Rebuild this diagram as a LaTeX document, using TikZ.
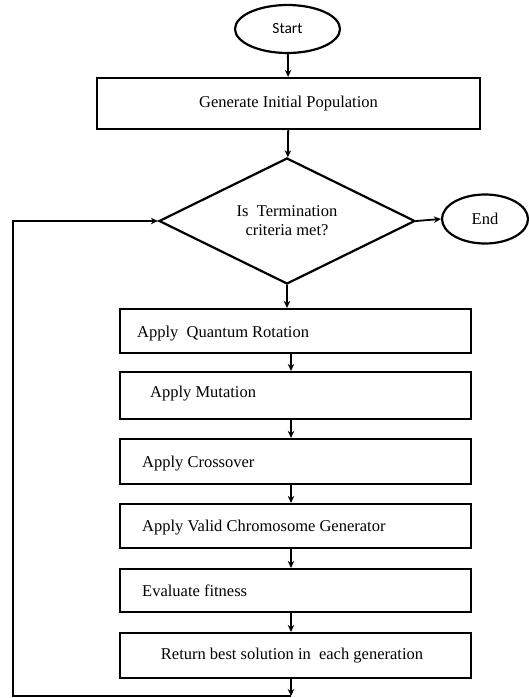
\documentclass[tikz,border=0pt]{standalone}
\usepackage{fontspec}
\setmainfont{Liberation Serif}
\newfontfamily\startfont{Carlito}
\usetikzlibrary{shapes.geometric,arrows.meta}
\begin{document}
\begin{tikzpicture}[x=1pt,y=-1pt,
  box/.style={draw, rectangle, inner sep=0pt, line width=2.2pt, font=\fontsize{16.5}{19}\selectfont},
  term/.style={draw, ellipse, inner sep=0pt, line width=2.2pt},
  arr/.style={-{Stealth[length=7pt,width=6.5pt]}, line width=1.8pt},
  lbl/.style={font=\fontsize{16.5}{19}\selectfont, inner sep=0pt, anchor=west}]
\useasboundingbox (0,0) rectangle (529,698);
\node[term, minimum width=105pt, minimum height=48pt] (start) at (287.5,29) {\startfont\fontsize{15.5}{17}\selectfont Start};
\node[box, minimum width=383pt, minimum height=51pt] (gen) at (288.5,103.5) {Generate Initial Population};
\node[draw, diamond, aspect=2, inner sep=0pt, line width=2.2pt, minimum width=256pt, minimum height=126pt, align=center, font=\fontsize{16.5}{19}\selectfont] (dia) at (287,221) {Is\ \ Termination\\criteria met?};
\node[term, minimum width=86pt, minimum height=49pt, font=\fontsize{16.5}{19}\selectfont] (end) at (485,219) {End};
\node[box, minimum width=351pt, minimum height=44pt] (qr) at (295.5,331) {};
\node[box, minimum width=351pt, minimum height=47pt] (mut) at (295.5,395.5) {};
\node[box, minimum width=351pt, minimum height=45pt] (cross) at (295.5,461.5) {};
\node[box, minimum width=351pt, minimum height=44pt] (valid) at (295.5,526) {};
\node[box, minimum width=351pt, minimum height=43pt] (eval) at (295.5,590.5) {};
\node[box, minimum width=351pt, minimum height=45pt] (ret) at (295.5,655.5) {};
\node[lbl] (tqr) at (137,334) {Apply\ \ Quantum Rotation};
\node[lbl] (tmut) at (150,394) {Apply Mutation};
\node[lbl] (tcross) at (142,464) {Apply Crossover};
\node[lbl] (tvalid) at (142,528) {Apply Valid Chromosome Generator};
\node[lbl] (teval) at (142,591) {Evaluate fitness};
\node[lbl, anchor=center] (tret) at (292,656) {Return best solution in\ \ each generation};
\coordinate (bot) at (291,696);
\coordinate (corner) at (13,696);
\draw[arr] (start) -- (gen);
\draw[arr] (gen) -- (dia);
\draw[arr] (dia.east) -- (end.west);
\draw[arr] (dia.south) -- (dia.south |- qr.north);
\draw[arr] ([xshift=-4.5pt]qr.south) -- ([xshift=-4.5pt]mut.north);
\draw[arr] ([xshift=-4.5pt]mut.south) -- ([xshift=-4.5pt]cross.north);
\draw[arr] ([xshift=-4.5pt]cross.south) -- ([xshift=-4.5pt]valid.north);
\draw[arr] ([xshift=-4.5pt]valid.south) -- ([xshift=-4.5pt]eval.north);
\draw[arr] ([xshift=-4.5pt]eval.south) -- ([xshift=-4.5pt]ret.north);
\draw[arr] ([xshift=-4.5pt]ret.south) -- (bot);
\draw[arr] (bot) -- (corner) |- (dia.west);
\end{tikzpicture}
\end{document}
